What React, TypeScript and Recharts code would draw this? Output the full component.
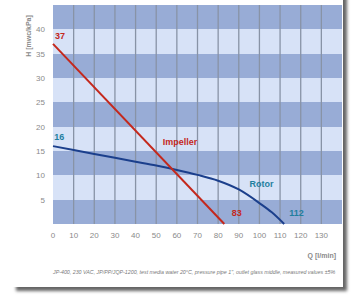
import React from "react";
import {
  LineChart,
  Line,
  XAxis,
  YAxis,
  CartesianGrid,
  ReferenceDot,
  ReferenceLine,
} from "recharts";

// flow Q (l/min) vs head H
const qTicks = [0, 10, 20, 30, 40, 50, 60, 70, 80, 90, 100, 110, 120, 130];
const hTicks = [5, 10, 15, 20, 25, 30, 35, 40];

const impellerQ = [0, 83];
const impellerH = [37, 0];

const rotorQ = [0, 10, 20, 30, 40, 50, 60, 70, 80, 90, 100, 106, 112];
const rotorH = [16, 15.2, 14.4, 13.6, 12.8, 12.0, 11.1, 10.1, 8.9, 7.1, 4.3, 2.4, 0];

const impellerData = impellerQ.map((q, i) => ({ q, h: impellerH[i] }));
const rotorData = rotorQ.map((q, i) => ({ q, h: rotorH[i] }));

const RED = "#c4281c";
const NAVY = "#1b3f8c";
const TEAL = "#1f7f9f";
const DARK_BAND = "#98acd6";
const LIGHT_BAND = "#d7e2f7";
const FONT = "'Liberation Sans Narrow', 'Liberation Sans', Arial, sans-serif";

// annotations: [text, q, h, colour]
const notes: [string, number, number, string][] = [
  ["37", 3.4, 38.6, RED],
  ["16", 3.0, 18.0, TEAL],
  ["Impeller", 61.5, 16.8, RED],
  ["Rotor", 101, 8.2, TEAL],
  ["83", 89, 2.2, RED],
  ["112", 118, 2.2, TEAL],
];

export default function App() {
  return (
    <div style={{ position: "absolute", left: 0, top: 0, width: 352, height: 295, background: "#fff", overflow: "hidden" }}>
      <div
        style={{
          position: "absolute",
          left: 12,
          top: -10,
          width: 331,
          height: 297,
          background: "#fff",
          boxShadow: "4px 4px 3px rgba(0,0,0,0.6)",
        }}
      />
      <div style={{ position: "absolute", left: 0, top: 0 }}>
        <LineChart width={352} height={295} margin={{ top: 5, right: 10, left: 0, bottom: 0 }}>
          {/* alternating bands */}
          <CartesianGrid
            horizontal={() => <g />}
            vertical={false}
            horizontalFill={[DARK_BAND, LIGHT_BAND]}
            fillOpacity={1}
          />
          <XAxis
            dataKey="q"
            type="number"
            domain={[0, 140]}
            ticks={qTicks}
            axisLine={false}
            tickLine={false}
            height={71}
            tick={{ fill: "#8a8a8a", fontSize: 8, fontFamily: FONT }}
            allowDuplicatedCategory={false}
          />
          <YAxis
            type="number"
            domain={[0, 45]}
            ticks={hTicks}
            axisLine={false}
            tickLine={false}
            width={53}
            tick={{ fill: "#8a8a8a", fontSize: 8, fontFamily: FONT }}
          />
          {/* vertical grid lines over the bands */}
          {qTicks.slice(1).map((q) => (
            <ReferenceLine key={q} x={q} stroke="#8893a6" strokeWidth={1.3} />
          ))}
          <Line
            data={rotorData}
            dataKey="h"
            type="monotone"
            stroke={NAVY}
            strokeWidth={2}
            dot={false}
            isAnimationActive={false}
          />
          <Line
            data={impellerData}
            dataKey="h"
            type="linear"
            stroke={RED}
            strokeWidth={2}
            dot={false}
            isAnimationActive={false}
          />
          {notes.map(([t, q, h, c]) => (
            <ReferenceDot
              key={t}
              x={q}
              y={h}
              r={1}
              fill="none"
              stroke="none"
              ifOverflow="visible"
              label={{ value: t, position: "center", fill: c, fontSize: 9, fontWeight: 700, fontFamily: FONT }}
            />
          ))}
        </LineChart>
      </div>
      <svg width={352} height={295} style={{ position: "absolute", left: 0, top: 0 }}>
        <text
          transform="translate(31 36) rotate(-90)"
          textAnchor="middle"
          fontSize={7}
          fill="#8a8a8a"
          fontFamily={FONT}
          fontWeight={700}
        >
          H [mwc/kPa]
        </text>
        <text x={336} y={258} textAnchor="end" fontSize={7} fill="#8a8a8a" fontFamily={FONT} fontWeight={700}>
          Q [l/min]
        </text>
        <text x={53} y={274} fontSize={5.3} fill="#7a7a7a" fontFamily={FONT} fontStyle="italic">
          JP-400, 230 VAC, JP/PP/JQP-1200, test media water 20°C, pressure pipe 1", outlet glass middle, measured values ±5%
        </text>
      </svg>
    </div>
  );
}
